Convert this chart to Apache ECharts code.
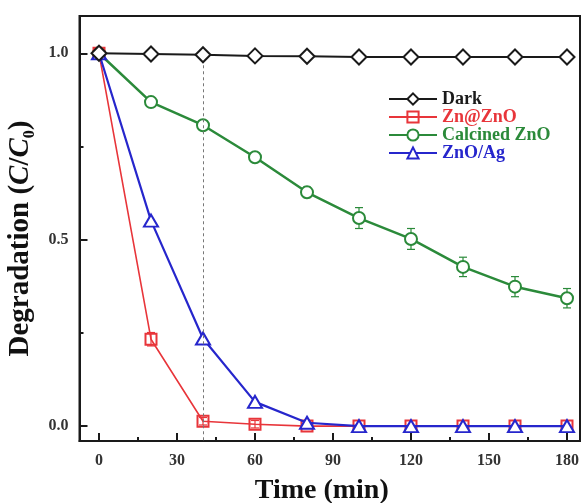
<!DOCTYPE html>
<html>
<head>
<meta charset="utf-8">
<script src="https://cdn.jsdelivr.net/npm/echarts@6/dist/echarts.min.js"></script>
<style>
  html, body { margin: 0; padding: 0; background: #fff; }
  #chart { width: 583px; height: 503px; }
</style>
</head>
<body>
<div id="chart"></div>
<script>
// Sampling times (min)
const times = [0, 20, 40, 60, 80, 100, 120, 140, 160, 180];

// C/C0 for each sample
const dark      = [1.0, 0.998, 0.996, 0.993, 0.992, 0.99, 0.99, 0.99, 0.99, 0.99];
const znAtZno   = [1.0, 0.233, 0.013, 0.005, 0.0, 0.0, 0.0, 0.0, 0.0, 0.0];
const calcined  = [1.0, 0.869, 0.807, 0.721, 0.627, 0.558, 0.502, 0.427, 0.374, 0.343];
const znoAg     = [1.0, 0.551, 0.235, 0.065, 0.009, 0.0, 0.0, 0.0, 0.0, 0.0];

// Error bar half-widths
const znAtZnoErr  = [0, 0.018, 0.01, 0.01, 0.006, 0, 0, 0, 0, 0];
const calcinedErr = [0, 0.008, 0.01, 0.012, 0.014, 0.028, 0.028, 0.026, 0.027, 0.026];

// Axis ticks
const xTicks = [0, 30, 60, 90, 120, 150, 180];
const xMinorTicks = [15, 45, 75, 105, 135, 165];
const yTicks = [0, 0.5, 1.0];
const yMinorTicks = [0.25, 0.75];

// Vertical guide at 40 min
const guideTime = 40;
const guideTop = 1.0;

const X_MIN = -7.5, X_MAX = 185, Y_MIN = -0.04, Y_MAX = 1.1;
const SERIF = '"Liberation Serif", "Times New Roman", serif';

const colors = {
  dark: '#1a1a1a',
  red: '#e8353a',
  green: '#2b8a3a',
  blue: '#2626cc'
};

function pairs(vals) { return times.map((t, i) => [t, vals[i]]); }

function errorBars(name, vals, errs, color) {
  return {
    type: 'custom',
    name: name + '-err',
    z: 1,
    silent: true,
    data: times.map((t, i) => [t, vals[i], errs[i]]),
    renderItem: function (params, api) {
      const x = api.value(0), y = api.value(1), e = api.value(2);
      if (!e) return null;
      const top = api.coord([x, y + e]);
      const bot = api.coord([x, y - e]);
      const cap = 4;
      const style = { stroke: color, lineWidth: 1.2 };
      return {
        type: 'group',
        children: [
          { type: 'line', shape: { x1: top[0], y1: top[1], x2: bot[0], y2: bot[1] }, style },
          { type: 'line', shape: { x1: top[0] - cap, y1: top[1], x2: top[0] + cap, y2: top[1] }, style },
          { type: 'line', shape: { x1: bot[0] - cap, y1: bot[1], x2: bot[0] + cap, y2: bot[1] }, style }
        ]
      };
    }
  };
}

const tickLabel = { fontFamily: SERIF, fontWeight: 'bold', fontSize: 16, color: '#333' };

const chart = echarts.init(document.getElementById('chart'), null, { renderer: 'canvas' });

chart.setOption({
  backgroundColor: '#fff',
  animation: false,
  grid: {
    left: 79.5, right: 3, top: 16, bottom: 62,
    show: true, borderColor: '#1a1a1a', borderWidth: 2,
    outerBoundsMode: 'none'
  },
  xAxis: [
    {
      type: 'value', min: X_MIN, max: X_MAX, position: 'bottom',
      name: 'Time (min)', nameLocation: 'middle', nameGap: 36,
      nameTextStyle: { fontFamily: SERIF, fontWeight: 'bold', fontSize: 28, color: '#111', padding: [0, 16, 0, 0] },
      axisLine: { show: true, onZero: false, lineStyle: { color: '#1a1a1a', width: 2 } },
      axisTick: { show: true, inside: true, length: 8, customValues: xTicks, lineStyle: { color: '#1a1a1a', width: 2 } },
      axisLabel: Object.assign({ margin: 12, customValues: xTicks }, tickLabel),
      splitLine: { show: false }
    },
    {
      type: 'value', min: X_MIN, max: X_MAX, position: 'bottom', offset: 0,
      axisLine: { show: false, onZero: false },
      axisTick: { show: true, inside: true, length: 4, customValues: xMinorTicks, lineStyle: { color: '#1a1a1a', width: 2 } },
      axisLabel: { show: false },
      splitLine: { show: false }
    }
  ],
  yAxis: [
    {
      type: 'value', min: Y_MIN, max: Y_MAX, position: 'left',
      name: '{b|Degradation (}{i|C}{b|/}{i|C}{s|0}{b|)}',
      nameLocation: 'middle', nameGap: 42, nameRotate: 90,
      nameTextStyle: {
        color: '#111',
        padding: [0, 20, 0, 0],
        rich: {
          b: { fontFamily: SERIF, fontWeight: 'bold', fontSize: 29, color: '#111', lineHeight: 29, verticalAlign: 'top' },
          i: { fontFamily: SERIF, fontWeight: 'bold', fontStyle: 'italic', fontSize: 29, color: '#111', lineHeight: 29, verticalAlign: 'top' },
          s: { fontFamily: SERIF, fontWeight: 'bold', fontSize: 16, color: '#111', lineHeight: 16, verticalAlign: 'top', padding: [16, 0, 0, 0] }
        }
      },
      axisLine: { show: true, onZero: false, lineStyle: { color: '#1a1a1a', width: 2 } },
      axisTick: { show: true, inside: true, length: 8, customValues: yTicks, lineStyle: { color: '#1a1a1a', width: 2 } },
      axisLabel: Object.assign({ margin: 11, customValues: yTicks, formatter: v => v.toFixed(1) }, tickLabel),
      splitLine: { show: false }
    },
    {
      type: 'value', min: Y_MIN, max: Y_MAX, position: 'left', offset: 0,
      axisLine: { show: false, onZero: false },
      axisTick: { show: true, inside: true, length: 4, customValues: yMinorTicks, lineStyle: { color: '#1a1a1a', width: 2 } },
      axisLabel: { show: false },
      splitLine: { show: false }
    }
  ],
  legend: {
    left: 388, top: 90, orient: 'vertical', padding: 0,
    itemWidth: 48, itemHeight: 14, itemGap: 0,
    textStyle: { fontFamily: SERIF, fontWeight: 'bold', fontSize: 18, lineHeight: 18 },
    data: [
      { name: 'Dark', textStyle: { color: colors.dark } },
      { name: 'Zn@ZnO', textStyle: { color: colors.red } },
      { name: 'Calcined ZnO', textStyle: { color: colors.green } },
      { name: 'ZnO/Ag', textStyle: { color: colors.blue } }
    ]
  },
  series: [
    errorBars('Calcined ZnO', calcined, calcinedErr, colors.green),
    errorBars('Zn@ZnO', znAtZno, znAtZnoErr, colors.red),
    {
      name: 'Calcined ZnO', type: 'line', z: 2,
      data: pairs(calcined),
      symbol: 'circle', symbolSize: 12,
      lineStyle: { color: colors.green, width: 2.5 },
      itemStyle: { color: '#fff', borderColor: colors.green, borderWidth: 2 }
    },
    {
      name: 'Zn@ZnO', type: 'line', z: 3,
      data: pairs(znAtZno),
      symbol: 'rect', symbolSize: 11,
      lineStyle: { color: colors.red, width: 1.6 },
      itemStyle: { color: 'rgba(255,255,255,0)', borderColor: colors.red, borderWidth: 2 }
    },
    {
      name: 'ZnO/Ag', type: 'line', z: 4,
      data: pairs(znoAg),
      symbol: 'triangle', symbolSize: [14, 12],
      lineStyle: { color: colors.blue, width: 2.2 },
      itemStyle: { color: '#fff', borderColor: colors.blue, borderWidth: 2 }
    },
    {
      name: 'Dark', type: 'line', z: 5,
      data: pairs(dark),
      symbol: 'diamond', symbolSize: [15, 15],
      lineStyle: { color: colors.dark, width: 2 },
      itemStyle: { color: '#fff', borderColor: colors.dark, borderWidth: 2 },
      markLine: {
        silent: true, symbol: 'none', label: { show: false },
        lineStyle: { color: '#777', type: [3, 3], width: 1 },
        data: [[{ coord: [guideTime, guideTop] }, { coord: [guideTime, Y_MIN] }]]
      }
    }
  ]
});
</script>
</body>
</html>
